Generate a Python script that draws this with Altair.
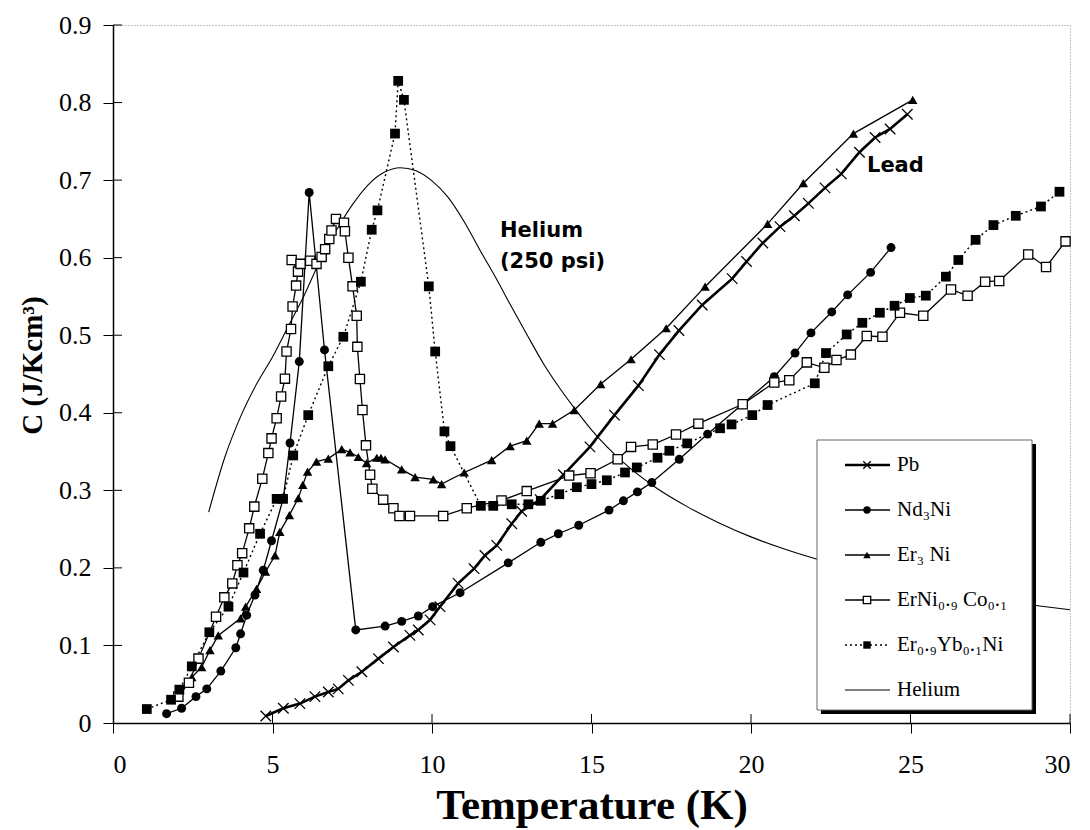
import altair as alt
import pandas as pd

# ---------------- data ----------------
pb_T = [4.79, 5.34, 5.86, 6.33, 6.75, 7.06, 7.38, 7.80, 8.32, 8.79, 9.31, 9.57, 9.94, 10.25, 10.82,
        11.32, 11.66, 12.03, 12.50, 12.81, 13.39, 14.12, 14.95, 15.72, 16.47, 17.13, 17.74, 18.47,
        19.41, 19.86, 20.37, 20.91, 21.36, 21.80, 22.32, 22.83, 23.40, 23.89, 24.36, 24.90]
pb_C = [0.009, 0.019, 0.025, 0.034, 0.040, 0.044, 0.055, 0.066, 0.083, 0.098, 0.113, 0.120, 0.133, 0.150, 0.180,
        0.199, 0.216, 0.229, 0.257, 0.273, 0.288, 0.320, 0.356, 0.397, 0.435, 0.475, 0.506, 0.539,
        0.573, 0.595, 0.619, 0.640, 0.654, 0.670, 0.690, 0.708, 0.736, 0.755, 0.766, 0.785]

nd_T = [1.68, 2.15, 2.60, 2.94, 3.38, 3.85, 4.00, 4.19, 4.45, 4.71, 4.97, 5.34, 5.55, 5.84, 6.15, 6.63,
        7.61, 8.53, 9.05, 9.57, 10.02, 10.88, 12.39, 13.41, 13.96, 14.60, 15.55, 16.00, 16.44, 16.89,
        17.75, 18.64, 19.73, 20.73, 21.38, 21.88, 22.53, 23.03, 23.75, 24.39]
nd_C = [0.012, 0.019, 0.034, 0.044, 0.067, 0.097, 0.115, 0.139, 0.165, 0.197, 0.235, 0.290, 0.361, 0.466, 0.684, 0.481,
        0.120, 0.125, 0.131, 0.138, 0.150, 0.168, 0.2065, 0.233, 0.244, 0.255, 0.2745, 0.2865, 0.298, 0.310,
        0.340, 0.3725, 0.411, 0.4465, 0.477, 0.503, 0.530, 0.552, 0.581, 0.613]

er_T = [2.05, 2.47, 2.78, 3.04, 3.30, 4.00, 4.16, 4.50, 4.78, 5.08, 5.23, 5.53, 5.81, 5.95, 6.10, 6.38,
        6.75, 7.17, 7.43, 7.69, 7.95, 8.27, 8.40, 8.53, 9.05, 9.47, 10.04, 10.30, 11.01, 11.87, 12.45,
        12.97, 13.36, 13.78, 14.46, 15.29, 16.24, 17.34, 18.56, 20.52, 21.64, 23.21, 25.07]
er_C = [0.042, 0.059, 0.072, 0.094, 0.113, 0.135, 0.150, 0.173, 0.195, 0.216, 0.2465, 0.268, 0.290, 0.307, 0.324, 0.337,
        0.341, 0.353, 0.349, 0.343, 0.335, 0.342, 0.342, 0.340, 0.327, 0.317, 0.314, 0.308, 0.323, 0.339, 0.357,
        0.364, 0.386, 0.386, 0.4035, 0.437, 0.469, 0.509, 0.5626, 0.6435, 0.696, 0.760, 0.8035]

erni_T = [2.05, 2.38, 2.68, 3.23, 3.49, 3.74, 3.90, 4.05, 4.27, 4.43, 4.68, 4.87, 4.97, 5.13, 5.27, 5.39,
          5.44, 5.58, 5.63, 5.74, 5.80, 5.60, 5.88, 6.18, 6.38, 6.54, 6.65, 6.78, 6.85, 6.99, 7.24, 7.27,
          7.38, 7.51, 7.64, 7.66, 7.74, 7.82, 7.93, 8.06, 8.13, 8.47, 8.79, 8.98, 9.31, 10.35, 11.09,
          12.18, 12.97, 14.30, 14.97, 15.82, 16.24, 16.92, 17.65, 18.35, 19.74, 20.73, 21.20, 21.75,
          22.30, 22.68, 23.13, 23.63, 24.12, 24.67, 25.40, 26.27, 26.79, 27.34, 27.78, 28.69, 29.25, 29.86]
erni_C = [0.034, 0.052, 0.083, 0.137, 0.162, 0.180, 0.2035, 0.219, 0.251, 0.279, 0.315, 0.348, 0.367, 0.393, 0.421, 0.444,
          0.479, 0.508, 0.537, 0.564, 0.582, 0.597, 0.592, 0.596, 0.592, 0.601, 0.611, 0.624, 0.635, 0.650, 0.645, 0.634,
          0.600, 0.563, 0.525, 0.485, 0.4435, 0.4035, 0.358, 0.320, 0.302, 0.288, 0.277, 0.267, 0.267, 0.267, 0.277,
          0.287, 0.299, 0.319, 0.322, 0.340, 0.356, 0.359, 0.372, 0.386, 0.411, 0.439, 0.442, 0.465,
          0.458, 0.468, 0.475, 0.499, 0.498, 0.529, 0.525, 0.559, 0.551, 0.569, 0.570, 0.604, 0.588, 0.621]

eryb_T = [1.06, 1.82, 2.08, 2.47, 3.02, 3.62, 4.09, 4.61, 5.13, 5.33, 5.65, 6.12, 6.75, 7.22, 7.77, 8.11,
          8.29, 8.84, 8.94, 9.12, 9.90, 10.10, 10.39, 10.58, 11.53, 11.92, 12.50, 13.02, 13.41, 13.99,
          14.54, 15.00, 15.48, 16.05, 16.42, 17.07, 17.44, 18.00, 19.03, 19.39, 20.04, 20.52, 22.00,
          22.35, 23.00, 23.49, 24.04, 24.50, 24.98, 25.48, 26.11, 26.50, 27.04, 27.60, 28.30, 29.09, 29.67]
eryb_C = [0.018, 0.030, 0.043, 0.073, 0.117, 0.150, 0.194, 0.244, 0.289, 0.289, 0.345, 0.397, 0.460, 0.498, 0.569, 0.636,
          0.661, 0.760, 0.828, 0.8035, 0.563, 0.479, 0.376, 0.357, 0.280, 0.280, 0.282, 0.282, 0.2865, 0.295,
          0.304, 0.308, 0.313, 0.323, 0.3295, 0.342, 0.351, 0.3605, 0.380, 0.385, 0.397, 0.410, 0.438,
          0.477, 0.501, 0.516, 0.529, 0.538, 0.548, 0.551, 0.5755, 0.597, 0.623, 0.642, 0.654, 0.666, 0.685]

he_T = [3.0, 3.5, 4.0, 4.5, 5.0, 5.5, 6.0, 6.5, 7.0, 7.5, 8.0, 8.5, 9.0, 9.5, 10.0, 10.5, 11.0, 11.5,
        12.0, 12.5, 13.0, 13.5, 14.0, 14.5, 15.0, 16.0, 17.0, 18.0, 19.0, 20.0, 21.0, 22.0, 24.0, 26.0, 28.0, 30.0]
he_C = [0.272, 0.342, 0.395, 0.437, 0.472, 0.512, 0.552, 0.597, 0.635, 0.668, 0.694, 0.710, 0.716, 0.712, 0.699, 0.678, 0.647, 0.610,
        0.574, 0.536, 0.499, 0.463, 0.432, 0.404, 0.378, 0.336, 0.304, 0.279, 0.258, 0.240, 0.225, 0.212, 0.190, 0.172, 0.157, 0.146]

x_ticks = [0, 5, 10, 15, 20, 25, 30]
y_ticks = [0, 0.1, 0.2, 0.3, 0.4, 0.5, 0.6, 0.7, 0.8, 0.9]

legend_labels = ["Pb", "Nd\u2083Ni", "Er\u2083 Ni", "ErNi\u2080.\u2089 Co\u2080.\u2081", "Er\u2080.\u2089Yb\u2080.\u2081Ni", "Helium"]

# ---------------- layout ----------------
W, H = 957, 698
LEFT, TOP = 113, 25
SERIF = "Liberation Serif"
SANS = "DejaVu Sans"
CROSS = "M-1,-1L1,1M-1,1L1,-1"

x_axis = alt.Axis(values=x_ticks, grid=False, domainColor="black", domainWidth=1.5,
                  tickColor="black", tickSize=10, tickWidth=1,
                  labelFont=SERIF, labelFontSize=26, labelColor="black", labelPadding=18,
                  title="Temperature (K)", titleFont=SERIF, titleFontSize=43, titleFontWeight="bold",
                  titleColor="black", titleBaseline="alphabetic", titleY=95, titleX=W / 2, titleAlign="center")
y_axis = alt.Axis(values=y_ticks, grid=False, domainColor="black", domainWidth=1.5,
                  tickColor="black", tickSize=10, tickWidth=1,
                  labelFont=SERIF, labelFontSize=26, labelColor="black", labelPadding=12,
                  labelExpr="datum.value == 0 ? '0' : format(datum.value, '.1f')",
                  title="C (J/Kcm\u00b3)", titleFont=SERIF, titleFontSize=29, titleFontWeight="bold",
                  titleColor="black", titleAngle=270, titleX=-81, titleY=340, titleAlign="center",
                  titleBaseline="middle")

X = alt.X("T:Q", scale=alt.Scale(domain=[0, 30], nice=False, zero=False), axis=x_axis)
Y = alt.Y("C:Q", scale=alt.Scale(domain=[0, 0.9], nice=False), axis=y_axis)


def frame(T, C):
    return pd.DataFrame({"T": T, "C": C, "order": list(range(len(T)))})


series = [
    (pb_T, pb_C, dict(strokeWidth=2.6),
     dict(shape=CROSS, filled=False, size=110, strokeWidth=1.3)),
    (nd_T, nd_C, dict(strokeWidth=1.3),
     dict(shape="circle", filled=True, size=80)),
    (er_T, er_C, dict(strokeWidth=1.3),
     dict(shape="triangle-up", filled=True, size=90)),
    (erni_T, erni_C, dict(strokeWidth=1.3),
     dict(shape="square", fill="white", stroke="black", fillOpacity=1, size=85, strokeWidth=1.3)),
    (eryb_T, eryb_C, dict(strokeWidth=1.4, strokeDash=[2, 3]),
     dict(shape="square", filled=True, size=95)),
]

layers = []
# helium curve
layers.append(alt.Chart(frame(he_T, he_C)).mark_line(color="black", strokeWidth=1.1, interpolate="monotone")
              .encode(x=X, y=Y, order="order:Q"))

for T, C, lstyle, pstyle in series:
    df = frame(T, C)
    layers.append(alt.Chart(df).mark_line(color="black", **lstyle).encode(x=X, y=Y, order="order:Q"))
for T, C, lstyle, pstyle in series:
    df = frame(T, C)
    ps = dict(pstyle)
    if "stroke" not in ps:
        ps["color"] = "black"
    layers.append(alt.Chart(df).mark_point(opacity=1, **ps).encode(x=X, y=Y))

# inner half of the crossing tick marks
ytick_df = pd.DataFrame({"C": y_ticks[1:]})
layers.append(alt.Chart(ytick_df).mark_rule(color="black", strokeWidth=1)
              .encode(y=Y, x=alt.value(0), x2=alt.value(9)))
xtick_df = pd.DataFrame({"T": x_ticks[1:]})
layers.append(alt.Chart(xtick_df).mark_rule(color="black", strokeWidth=1)
              .encode(x=X, y=alt.value(H), y2=alt.value(H - 9)))

dummy = pd.DataFrame({"d": [0]})

# legend box with shadow
bx0, bx1, by0, by1 = 817 - LEFT, 1032 - LEFT, 440 - TOP, 710 - TOP
layers.append(alt.Chart(dummy).mark_rect(fill="black")
              .encode(x=alt.value(bx0 + 4), x2=alt.value(bx1 + 4), y=alt.value(by0 + 4), y2=alt.value(by1 + 4)))
layers.append(alt.Chart(dummy).mark_rect(fill="white", stroke="#666", strokeWidth=1)
              .encode(x=alt.value(bx0), x2=alt.value(bx1), y=alt.value(by0), y2=alt.value(by1)))

styles = [(s[2], s[3]) for s in series] + [(dict(strokeWidth=1.1), None)]
for i, (label, (lstyle, pstyle)) in enumerate(zip(legend_labels, styles)):
    yy = 465 - TOP + 45 * i
    layers.append(alt.Chart(dummy).mark_rule(color="black", **lstyle)
                  .encode(x=alt.value(845 - LEFT), x2=alt.value(890 - LEFT), y=alt.value(yy)))
    if pstyle is not None:
        ps = dict(pstyle)
        ps["size"] = 55
        if "stroke" not in ps:
            ps["color"] = "black"
        layers.append(alt.Chart(dummy).mark_point(opacity=1, **ps)
                      .encode(x=alt.value(867 - LEFT), y=alt.value(yy)))
    layers.append(alt.Chart(dummy).mark_text(align="left", baseline="middle", font=SERIF, fontSize=21, color="black")
                  .encode(x=alt.value(897 - LEFT), y=alt.value(yy), text=alt.value(label)))

# annotations
for txt, px, py in [("Helium", 500, 237), ("(250 psi)", 500, 268), ("Lead", 867, 172)]:
    layers.append(alt.Chart(dummy).mark_text(align="left", baseline="alphabetic", font=SANS, fontWeight="bold",
                                             fontSize=21, color="black")
                  .encode(x=alt.value(px - LEFT), y=alt.value(py - TOP), text=alt.value(txt)))

chart = (alt.layer(*layers)
         .properties(width=W, height=H, background="white",
                     autosize=alt.AutoSizeParams(type="none"),
                     padding={"left": LEFT, "top": TOP, "right": 1090 - LEFT - W, "bottom": 830 - TOP - H})
         .configure_view(stroke="#888", strokeDash=[1, 2], strokeWidth=1))

chart.save("out.html", embed_options={"renderer": "svg", "actions": False})
